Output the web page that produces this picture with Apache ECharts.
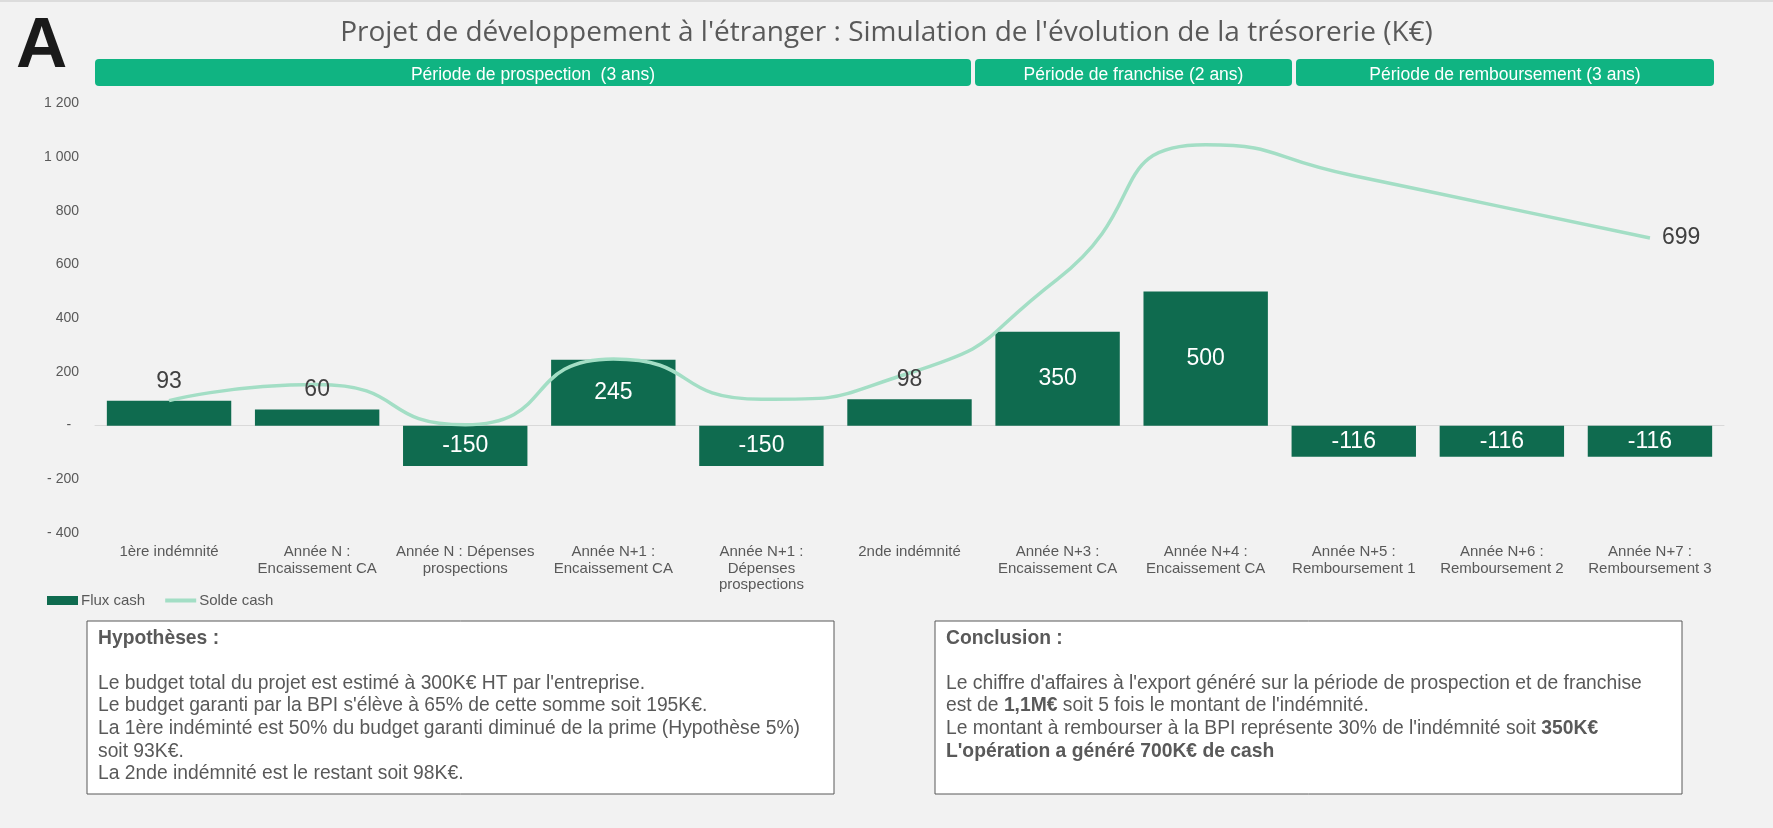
<!DOCTYPE html>
<html>
<head>
<meta charset="utf-8">
<script src="https://cdn.jsdelivr.net/npm/echarts@6/dist/echarts.min.js"></script>
<style>
html,body{margin:0;padding:0;background:#f2f2f2;}
#chart{width:1773px;height:828px;}
</style>
</head>
<body>
<div id="chart"></div>
<script>
const categories = [
  "1ère indémnité",
  "Année N :\nEncaissement CA",
  "Année N : Dépenses\nprospections",
  "Année N+1 :\nEncaissement CA",
  "Année N+1 :\nDépenses\nprospections",
  "2nde indémnité",
  "Année N+3 :\nEncaissement CA",
  "Année N+4 :\nEncaissement CA",
  "Année N+5 :\nRemboursement 1",
  "Année N+6 :\nRemboursement 2",
  "Année N+7 :\nRemboursement 3"
];
const fluxCash = [93, 60, -150, 245, -150, 98, 350, 500, -116, -116, -116];
const soldeCash = [93, 153, 3, 248, 98, 196, 546, 1046, 931, 815, 699];
const yTicks = { min: -400, max: 1200, interval: 200 };
const periods = [
  { name: "Période de prospection  (3 ans)", x0: 95, x1: 971 },
  { name: "Période de franchise (2 ans)", x0: 975, x1: 1292 },
  { name: "Période de remboursement (3 ans)", x0: 1296, x1: 1714 }
];
const titleText = "Projet de développement à l'étranger : Simulation de l'évolution de la trésorerie (K€)";
const hypText = "{h|Hypothèses :}\n\nLe budget total du projet est estimé à 300K€ HT par l'entreprise.\nLe budget garanti par la BPI s'élève à 65% de cette somme soit 195K€.\nLa 1ère indéminté est 50% du budget garanti diminué de la prime (Hypothèse 5%)\nsoit 93K€.\nLa 2nde indémnité est le restant soit 98K€.";
const conclText = "{h|Conclusion :}\n\nLe chiffre d'affaires à l'export généré sur la période de prospection et de franchise\nest de {b|1,1M€} soit 5 fois le montant de l'indémnité.\nLe montant à rembourser à la BPI représente 30% de l'indémnité soit {b|350K€}\n{b|L'opération a généré 700K€ de cash}";

const FONT = "'Liberation Sans', Arial, sans-serif";
const GREY = '#595959';

function fmtY(v){
  if (v === 0) return '-  ';
  const s = String(Math.abs(v)).replace(/\B(?=(\d{3})+(?!\d))/g, ' ');
  return (v < 0 ? '- ' : '') + s;
}

const labelData = fluxCash.map(v => {
  const outside = v > 0 && v < 100;
  return {
    value: v,
    label: outside
      ? { position: 'top', distance: 8, color: '#404040' }
      : { position: 'inside', color: '#ffffff' }
  };
});

const BOX_FS = 19.3, BOX_LH = 22.6;
const boxText = { fontSize: BOX_FS, fontFamily: FONT, fill: GREY, lineHeight: BOX_LH };
const richBox = {
  h: { fontSize: BOX_FS, fontFamily: FONT, fill: GREY, fontWeight: 'bold', lineHeight: BOX_LH },
  b: { fontSize: BOX_FS, fontFamily: FONT, fill: GREY, fontWeight: 'bold', lineHeight: BOX_LH }
};

const graphics = [
  { type: 'rect', shape: { x: 0, y: 0, width: 1773, height: 2 }, style: { fill: '#dcdcdc' }, silent: true },
  { type: 'text', left: 16, top: 12, style: { text: 'A', fontSize: 71, fontWeight: 'bold', fontFamily: FONT, fill: '#1a1a1a' } },
  { type: 'rect', shape: { x: 87, y: 621, width: 747, height: 173 }, style: { fill: '#ffffff', stroke: '#595959', lineWidth: 1 } },
  { type: 'text', x: 98, y: 627, style: Object.assign({ text: hypText, rich: richBox }, boxText) },
  { type: 'rect', shape: { x: 935, y: 621, width: 747, height: 173 }, style: { fill: '#ffffff', stroke: '#595959', lineWidth: 1 } },
  { type: 'text', x: 946, y: 627, style: Object.assign({ text: conclText, rich: richBox }, boxText) }
];
periods.forEach(p => {
  graphics.push({ type: 'rect', shape: { x: p.x0, y: 59, width: p.x1 - p.x0, height: 27, r: 4 }, style: { fill: '#10b482' } });
  graphics.push({ type: 'text', x: (p.x0 + p.x1) / 2, y: 75.5, style: { text: p.name, fontSize: 17.5, fontFamily: FONT, fill: '#ffffff', align: 'center', verticalAlign: 'middle' } });
});

const chart = echarts.init(document.getElementById('chart'));
chart.setOption({
  backgroundColor: '#f2f2f2',
  animation: false,
  title: {
    text: titleText, left: 'center', top: 14,
    textStyle: { fontFamily: "'Open Sans', sans-serif", fontSize: 28, fontWeight: 'normal', color: GREY }
  },
  legend: {
    left: 42, top: 588, itemWidth: 31, itemHeight: 9, itemGap: 18,
    textStyle: { fontFamily: FONT, fontSize: 15, color: GREY, padding: [0, 0, 0, -2] },
    data: [
      { name: 'Flux cash', icon: 'rect' },
      { name: 'Solde cash', itemStyle: { opacity: 0 }, lineStyle: { width: 4 } }
    ]
  },
  grid: { left: 95, right: 49, top: 103.5, bottom: 295 },
  xAxis: [
    {
      type: 'category', data: categories, position: 'bottom',
      axisLine: { show: false, onZero: false }, axisTick: { show: false },
      axisLabel: { interval: 0, margin: 11, fontFamily: FONT, fontSize: 15, color: GREY, lineHeight: 16.5 }
    },
    {
      type: 'category', data: categories, position: 'bottom',
      axisLine: { show: true, onZero: true, lineStyle: { color: '#d9d9d9', width: 1 } },
      axisTick: { show: false }, axisLabel: { show: false }
    }
  ],
  yAxis: {
    type: 'value', min: yTicks.min, max: yTicks.max, interval: yTicks.interval,
    axisLine: { show: false }, axisTick: { show: false }, splitLine: { show: false },
    axisLabel: { formatter: fmtY, margin: 16, fontFamily: FONT, fontSize: 14, color: GREY }
  },
  series: [
    {
      name: 'Flux cash', type: 'bar', data: fluxCash, barCategoryGap: '16%', barGap: '-100%',
      itemStyle: { color: '#0f6b4f' }, z: 2
    },
    {
      name: 'Solde cash', type: 'line', data: soldeCash, smooth: 0.6,
      symbol: 'none', showSymbol: false,
      lineStyle: { color: '#a3dec5', width: 3.5 }, itemStyle: { color: '#a3dec5' },
      endLabel: { show: true, distance: 12, fontFamily: FONT, fontSize: 23, color: '#404040', formatter: '{c}' },
      z: 3
    },
    {
      name: 'Flux cash (étiquettes)', type: 'bar', data: labelData, barCategoryGap: '16%', barGap: '-100%',
      itemStyle: { color: 'rgba(0,0,0,0)' }, silent: true, z: 4,
      label: { show: true, fontFamily: FONT, fontSize: 23 }
    }
  ],
  graphic: graphics
});
</script>
</body>
</html>
